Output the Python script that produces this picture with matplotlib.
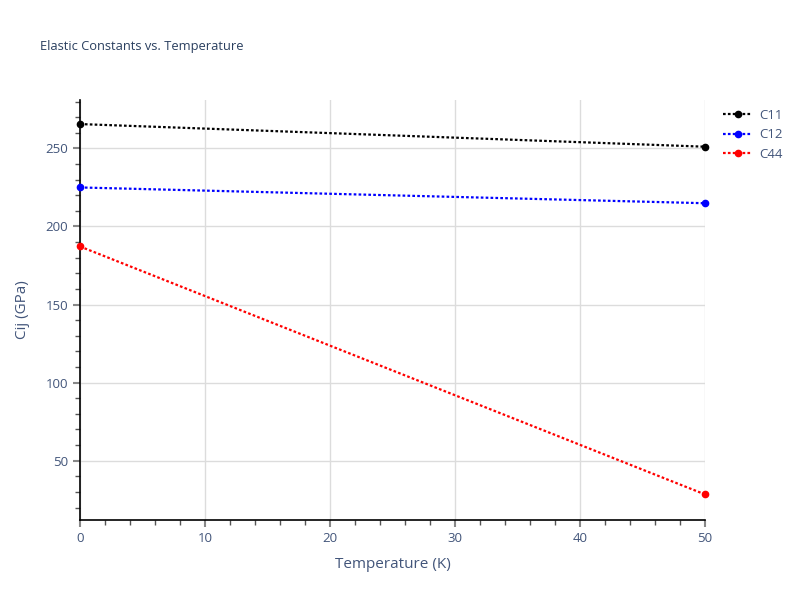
import matplotlib
matplotlib.use("Agg")
import matplotlib.pyplot as plt
from matplotlib.ticker import MultipleLocator

plt.rcParams['font.family'] = ['Open Sans', 'DejaVu Sans']

temperature = [0, 50]
c11 = [265.6, 251.1]
c12 = [225.0, 214.9]
c44 = [187.2, 28.4]
series_names = ["C11", "C12", "C44"]
series_colors = ["black", "blue", "red"]

text_color = "#2a3f5f"
tick_color = "#42557a"
fig = plt.figure(figsize=(8, 6), dpi=100)
ax = fig.add_axes([0.1, 0.1333, 0.78125, 0.7])

for vals, name, col in zip([c11, c12, c44], series_names, series_colors):
    ax.plot(temperature, vals, linestyle=(0, (1.2, 1.0)), linewidth=1.6, color=col,
            marker="o", markersize=4.5, label=name, clip_on=False, zorder=3)

ax.set_xlim(0, 50)
ax.set_ylim(12, 281)
ax.xaxis.set_major_locator(MultipleLocator(10))
ax.xaxis.set_minor_locator(MultipleLocator(2))
ax.yaxis.set_major_locator(MultipleLocator(50))
ax.yaxis.set_minor_locator(MultipleLocator(10))
ax.grid(True, which="major", color="#dcdcdc", linewidth=1)
ax.set_axisbelow(True)
for s in ["top", "right"]:
    ax.spines[s].set_visible(False)
for s in ["left", "bottom"]:
    ax.spines[s].set_color("black")
    ax.spines[s].set_linewidth(1.2)
ax.tick_params(which="major", length=5, color="#888888", labelcolor=tick_color, labelsize=9.5, width=1.5)
ax.tick_params(which="minor", length=3.5, color="#555555", width=1)
ax.set_xlabel("Temperature (K)", color=tick_color, fontsize=11, labelpad=9)
ax.set_ylabel("Cij (GPa)", color=tick_color, fontsize=11, labelpad=11)
fig.text(0.05, 0.923, "Elastic Constants vs. Temperature", color=text_color, fontsize=9.3, va="center")

leg = ax.legend(loc="upper left", bbox_to_anchor=(1.01, 1.008), frameon=False, fontsize=9.5,
                labelcolor=tick_color, handlelength=2.2, handletextpad=0.5, borderaxespad=0.5,
                labelspacing=0.5)
fig.savefig("out.png", dpi=100)
